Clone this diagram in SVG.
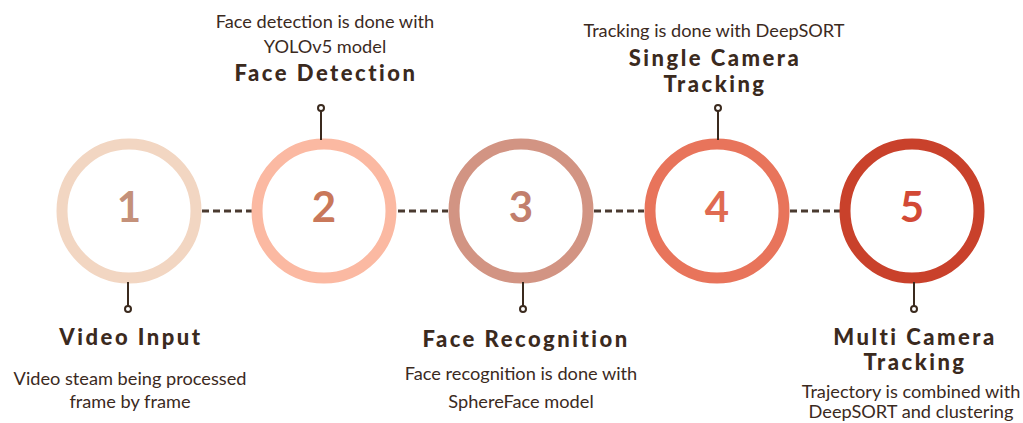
<svg xmlns="http://www.w3.org/2000/svg" width="1023" height="423" viewBox="0 0 1023 423">
  <style>
    .ring { fill: #ffffff; stroke-width: 11; }
    .num { font-family: "Lato", "Liberation Sans", sans-serif; font-weight: 700; font-size: 42px; text-anchor: middle; }
    .title { font-family: "Lato", "Liberation Sans", sans-serif; font-weight: 900; font-size: 22px; letter-spacing: 2.5px; fill: #3b2a1e; text-anchor: middle; }
    .desc { font-family: "Lato", "Liberation Sans", sans-serif; font-size: 18.2px; fill: #3b2a1e; text-anchor: middle; }
    .stem { stroke: #3b2a1e; stroke-width: 2; fill: none; }
    .pin { fill: #ffffff; stroke: #3b2a1e; stroke-width: 2; }
    .dash { stroke: #4a3a30; stroke-width: 3; stroke-dasharray: 7 4; fill: none; }
  </style>
  <rect width="1023" height="423" fill="#ffffff"/>

  <g id="connectors">
    <line class="dash" x1="202" y1="211" x2="252" y2="211"/>
    <line class="dash" x1="398" y1="211" x2="448" y2="211"/>
    <line class="dash" x1="594" y1="211" x2="644" y2="211"/>
    <line class="dash" x1="790" y1="211" x2="840" y2="211"/>
  </g>

  <g id="step1">
    <circle class="ring" cx="129" cy="211" r="67" stroke="#f2d6c2"/>
    <text class="num" x="129" y="222" fill="#c4917a">1</text>
    <line class="stem" x1="128" y1="282" x2="128" y2="306"/>
    <circle class="pin" cx="128" cy="309" r="3"/>
    <text class="title" x="131" y="345">Video Input</text>
    <text class="desc" x="130" y="385">Video steam being processed</text>
    <text class="desc" x="130" y="408">frame by frame</text>
  </g>

  <g id="step2">
    <circle class="ring" cx="324" cy="211" r="67" stroke="#fbb9a2"/>
    <text class="num" x="324" y="222" fill="#c9785a">2</text>
    <line class="stem" x1="321" y1="111" x2="321" y2="140"/>
    <circle class="pin" cx="321" cy="108" r="3"/>
    <text class="desc" x="325" y="28">Face detection is done with</text>
    <text class="desc" x="325" y="53">YOLOv5 model</text>
    <text class="title" x="326" y="81">Face Detection</text>
  </g>

  <g id="step3">
    <circle class="ring" cx="521" cy="211" r="67" stroke="#d29483"/>
    <text class="num" x="521" y="222" fill="#c27f6d">3</text>
    <line class="stem" x1="523" y1="282" x2="523" y2="306"/>
    <circle class="pin" cx="523" cy="309" r="3"/>
    <text class="title" x="526" y="347">Face Recognition</text>
    <text class="desc" x="521" y="380">Face recognition is done with</text>
    <text class="desc" x="521" y="408">SphereFace model</text>
  </g>

  <g id="step4">
    <circle class="ring" cx="717" cy="211" r="67" stroke="#e8745b"/>
    <text class="num" x="717" y="222" fill="#e06b52">4</text>
    <line class="stem" x1="718" y1="111" x2="718" y2="140"/>
    <circle class="pin" cx="718" cy="108" r="3"/>
    <text class="desc" x="714" y="37">Tracking is done with DeepSORT</text>
    <text class="title" x="715" y="66">Single Camera</text>
    <text class="title" x="715" y="92">Tracking</text>
  </g>

  <g id="step5">
    <circle class="ring" cx="912" cy="211" r="67" stroke="#c9412b"/>
    <text class="num" x="912" y="222" fill="#d24935">5</text>
    <line class="stem" x1="914" y1="282" x2="914" y2="306"/>
    <circle class="pin" cx="914" cy="309" r="3"/>
    <text class="title" x="915" y="345">Multi Camera</text>
    <text class="title" x="915" y="370">Tracking</text>
    <text class="desc" x="911" y="398">Trajectory is combined with</text>
    <text class="desc" x="911" y="418">DeepSORT and clustering</text>
  </g>
</svg>
